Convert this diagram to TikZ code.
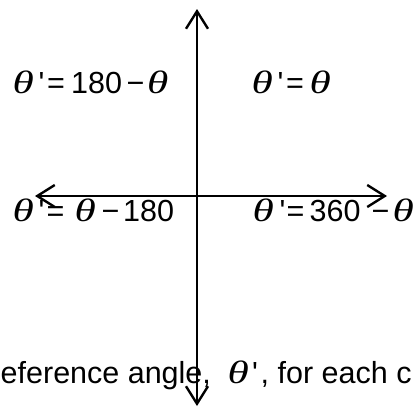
\documentclass[tikz,border=0pt]{standalone}
\usepackage{fontspec}
\usepackage{graphicx}
\setmainfont{Liberation Sans}
\newfontfamily\thf{Liberation Serif}[UprightFont=*-Italic]
\usetikzlibrary{arrows.meta}
\newcommand\tht{\scalebox{1.42}[1.06]{\thf θ}}
\newcommand\pr{\textquotesingle}
\newcommand\putat[2]{\rlap{\hspace*{#1pt}#2}}
\tikzset{
  barb/.tip={Straight Barb[length=17.5pt,width=22pt,line width=2.4pt]},
  axis/.style={line width=2.4pt,barb-barb},
  lab/.style={anchor=base west,inner sep=0pt,font=\fontsize{30.5}{34}\selectfont},
}
\begin{document}
\begin{tikzpicture}[x=1pt,y=-1pt]
\useasboundingbox (0,0) rectangle (416,407);
\coordinate (top) at (197,9);
\coordinate (bot) at (197,406);
\coordinate (lft) at (35,196);
\coordinate (rgt) at (387,196);
\draw[axis] (bot) -- (top);
\draw[axis] (lft) -- (rgt);
\node[lab] (q2) at (12,93.7) {\putat{0}{\tht}\putat{26}{\pr}\putat{34.5}{=}\putat{58.5}{180}\putat{114}{−}\putat{134.5}{\tht}};
\node[lab] (q1) at (251,93.7) {\putat{0}{\tht}\putat{26}{\pr}\putat{34.5}{=}\putat{58}{\tht}};
\node[lab] (q3) at (12,221.8) {\putat{0}{\tht}\putat{26}{\pr}\putat{34}{=}\putat{62}{\tht}\putat{89}{−}\putat{110.5}{180}};
\node[lab] (q4) at (252,221.8) {\putat{0}{\tht}\putat{27}{\pr}\putat{34}{=}\putat{57}{360}\putat{119}{−}\putat{140}{\tht}};
\node[lab] (captxt) at (0,383) {\putat{0}{eference angle,}\putat{227}{\tht}\putat{251.5}{\pr}\putat{260}{, for each c}};
\end{tikzpicture}
\end{document}
